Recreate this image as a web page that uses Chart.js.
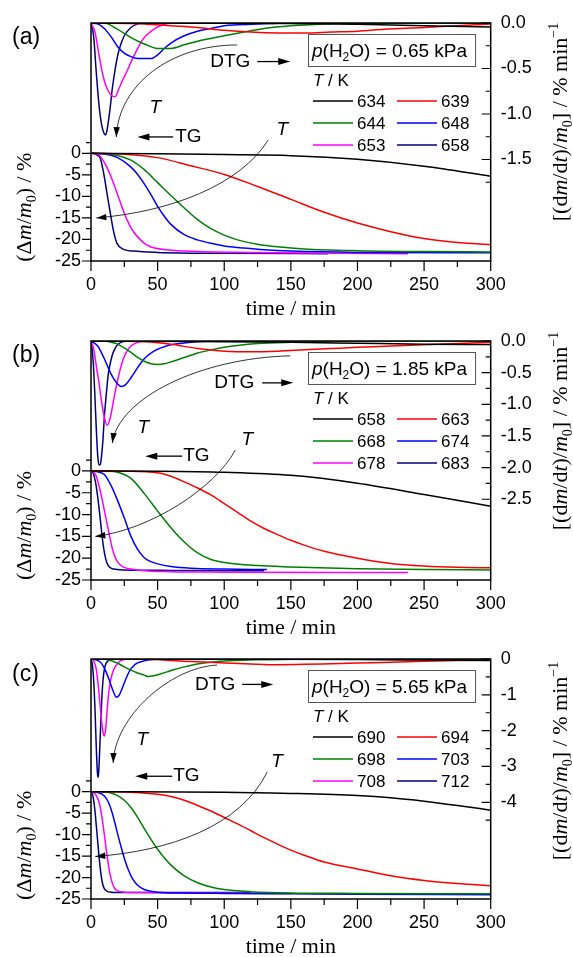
<!DOCTYPE html>
<html>
<head>
<meta charset="utf-8">
<script src="https://cdn.jsdelivr.net/npm/chart.js@4.4.1/dist/chart.umd.min.js"></script>
<style>
  html, body { margin: 0; padding: 0; background: #fff; }
  #wrap { position: relative; width: 573px; height: 957px; overflow: hidden; }
  canvas { position: absolute; left: 0; }
</style>
</head>
<body>
<div id="wrap">
  <canvas id="panelA" width="573" height="319" style="top:0px"></canvas>
  <canvas id="panelB" width="573" height="319" style="top:318px"></canvas>
  <canvas id="panelC" width="573" height="320" style="top:637px"></canvas>
</div>
<script>
'use strict';

// ---- shared ticks / series styling ----
const xTicks = [0, 50, 100, 150, 200, 250, 300];
const xMinor = [25, 75, 125, 175, 225, 275];
const tgTicks = [-25, -20, -15, -10, -5, 0];
const tgMinor = [-22.5, -17.5, -12.5, -7.5, -2.5, 2.5];
const seriesColors = ['#000000', '#ff0000', '#008000', '#0000ff', '#ff00ff', '#000080'];

// ---- (a) p(H2O) = 0.65 kPa ----  [time/min, value]
const tempsA = [634, 639, 644, 648, 653, 658];
const tgA634 = [[0, 0], [50, -0.1], [100, -0.3], [150, -0.55], [200, -1.4], [250, -3.0], [300, -5.3]];
const tgA639 = [[0, 0], [25, -0.2], [50, -1.0], [75, -2.9], [100, -4.9], [125, -7.7], [150, -10.7], [175, -13.7], [200, -16.2], [225, -18.2], [250, -19.8], [275, -20.7], [300, -21.2]];
const tgA644 = [[0, 0], [10, -0.05], [20, -0.5], [30, -1.6], [40, -3.8], [50, -6.8], [60, -9.8], [70, -12.7], [80, -15.4], [90, -17.5], [100, -19.0], [110, -20.1], [125, -21.1], [140, -21.7], [160, -22.2], [200, -22.6], [250, -22.8], [300, -22.9]];
const tgA648 = [[0, 0], [10, -0.15], [20, -1.0], [30, -3.2], [35, -4.9], [40, -7.1], [45, -9.6], [50, -12.3], [55, -14.6], [60, -16.5], [70, -18.9], [80, -20.1], [90, -20.9], [100, -21.5], [115, -22.0], [130, -22.4], [150, -22.7], [200, -23.0], [300, -23.1]];
const tgA653 = [[0, 0], [3, -0.1], [6, -0.4], [11, -2.7], [16, -6.2], [21, -10.5], [26, -14.7], [31, -17.8], [38.5, -20.5], [44.5, -21.7], [57, -22.4], [80, -22.8], [120, -23.0], [180, -23.2], [238, -23.3]];
const tgA658 = [[0, 0], [3, -0.1], [5, -0.5], [7, -1.2], [9.5, -4.6], [12, -9.3], [14.5, -13.9], [17, -18.2], [19.5, -20.9], [24.5, -22.3], [32, -22.7], [50, -23.0], [100, -23.2], [178, -23.3]];
const dtgA634 = [[0, 0], [150, -0.005], [200, -0.015], [250, -0.03], [300, -0.045]];
const dtgA639 = [[0, 0], [40, -0.01], [60, -0.03], [80, -0.05], [100, -0.08], [120, -0.1], [140, -0.11], [160, -0.11], [180, -0.1], [200, -0.09], [220, -0.07], [250, -0.05], [275, -0.03], [300, -0.01]];
const dtgA644 = [[0, 0], [10, 0], [20, -0.07], [30, -0.16], [40, -0.23], [50, -0.28], [60, -0.28], [70, -0.24], [80, -0.2], [90, -0.17], [100, -0.14], [115, -0.1], [130, -0.06], [150, -0.03], [175, -0.01], [200, 0], [300, 0]];
const dtgA648 = [[0, 0], [5, -0.01], [10, -0.06], [15, -0.15], [20, -0.26], [25, -0.33], [30, -0.37], [35, -0.39], [45, -0.39], [50, -0.35], [55, -0.28], [60, -0.22], [70, -0.14], [80, -0.09], [90, -0.06], [100, -0.03], [110, -0.02], [125, -0.01], [150, 0], [300, 0]];
const dtgA653 = [[0, 0], [3, -0.1], [6, -0.35], [9, -0.58], [12, -0.72], [15, -0.79], [18, -0.81], [21, -0.72], [24, -0.62], [27, -0.53], [30, -0.43], [34, -0.31], [38, -0.2], [42, -0.13], [47, -0.07], [54, -0.02], [60, 0], [238, 0]];
const dtgA658 = [[0, 0], [2, -0.15], [4, -0.55], [6, -0.9], [8, -1.12], [10, -1.22], [11, -1.23], [12, -1.18], [14, -0.98], [16, -0.72], [18, -0.52], [20, -0.36], [22, -0.25], [25, -0.14], [30, -0.05], [35, -0.01], [40, 0], [178, 0]];
const dtgTicksA = [0, -0.5, -1, -1.5];
const dtgMinorA = [-0.25, -0.75, -1.25, -1.75];

// ---- (b) p(H2O) = 1.85 kPa ----
const tempsB = [658, 663, 668, 674, 678, 683];
const tgB658 = [[0, 0], [50, -0.05], [100, -0.3], [150, -1.0], [200, -2.8], [250, -5.4], [300, -8.1]];
const tgB663 = [[0, 0], [25, -0.05], [50, -0.4], [60, -1.2], [70, -2.5], [80, -3.9], [90, -5.5], [100, -7.5], [110, -9.5], [120, -11.5], [130, -13.2], [140, -14.6], [150, -15.9], [160, -17.0], [175, -18.4], [200, -20.0], [225, -21.2], [250, -21.8], [275, -22.1], [300, -22.2]];
const tgB668 = [[0, 0], [10, 0], [20, -0.3], [30, -1.7], [40, -5.2], [50, -9.2], [60, -13.0], [70, -16.3], [80, -18.8], [90, -20.3], [100, -21.0], [125, -21.7], [150, -22.0], [200, -22.4], [250, -22.6], [300, -22.7]];
const tgB674 = [[0, 0], [5, -0.2], [10, -0.8], [15, -3.3], [20, -6.8], [25, -10.8], [30, -15.0], [35, -18.0], [40, -19.9], [45, -20.8], [50, -21.3], [60, -21.9], [75, -22.3], [100, -22.5], [132, -22.6]];
const tgB678 = [[0, 0], [2, -0.3], [4, -1.2], [6, -3.4], [8, -6.0], [10, -9.0], [12, -12.0], [14, -15.0], [16, -17.8], [18, -19.7], [20, -20.9], [24, -22.0], [30, -22.5], [40, -22.9], [60, -23.1], [100, -23.2], [238, -23.3]];
const tgB683 = [[0, 0], [1, -0.2], [2, -0.8], [3, -2.0], [4, -3.7], [5, -5.9], [6, -8.4], [7, -11.2], [8, -14.0], [9, -16.6], [10, -18.6], [11, -20.1], [12, -21.1], [14, -22.1], [17, -22.5], [25, -22.7], [60, -22.8], [130, -22.9]];
const dtgB658 = [[0, 0], [150, -0.02], [200, -0.035], [250, -0.05], [300, -0.055]];
const dtgB663 = [[0, 0], [40, -0.01], [60, -0.05], [80, -0.12], [100, -0.16], [120, -0.17], [140, -0.16], [160, -0.14], [180, -0.12], [200, -0.1], [225, -0.08], [250, -0.06], [275, -0.04], [300, -0.02]];
const dtgB668 = [[0, 0], [10, 0], [15, -0.02], [20, -0.05], [25, -0.11], [30, -0.18], [35, -0.26], [40, -0.32], [45, -0.36], [50, -0.37], [55, -0.36], [60, -0.33], [70, -0.26], [80, -0.19], [90, -0.14], [100, -0.1], [110, -0.07], [125, -0.04], [150, -0.02], [175, -0.01], [200, 0], [300, 0]];
const dtgB674 = [[0, 0], [5, -0.08], [10, -0.28], [15, -0.52], [20, -0.68], [23, -0.72], [26, -0.69], [30, -0.58], [35, -0.42], [40, -0.28], [45, -0.19], [50, -0.13], [55, -0.09], [60, -0.06], [70, -0.03], [80, -0.01], [90, 0], [132, 0]];
const dtgB678 = [[0, 0], [2, -0.12], [4, -0.4], [6, -0.66], [8, -0.97], [10, -1.2], [12, -1.33], [14, -1.25], [16, -1.05], [18, -0.82], [20, -0.62], [22, -0.44], [24, -0.3], [27, -0.16], [30, -0.08], [34, -0.03], [40, 0], [238, 0]];
const dtgB683 = [[0, 0], [1, -0.15], [2, -0.45], [3, -0.9], [4, -1.4], [5, -1.8], [6, -1.96], [7, -1.95], [8, -1.8], [9, -1.55], [10, -1.2], [11, -0.95], [12, -0.72], [13, -0.52], [14, -0.4], [16, -0.22], [18, -0.12], [20, -0.06], [24, -0.01], [30, 0], [130, 0]];
const dtgTicksB = [0, -0.5, -1, -1.5, -2, -2.5];
const dtgMinorB = [-0.25, -0.75, -1.25, -1.75, -2.25];

// ---- (c) p(H2O) = 5.65 kPa ----
const tempsC = [690, 694, 698, 703, 708, 712];
const tgC690 = [[0, 0], [100, -0.1], [150, -0.4], [200, -0.9], [225, -1.4], [250, -2.2], [275, -3.2], [300, -4.3]];
const tgC694 = [[0, 0], [25, -0.05], [50, -0.6], [60, -1.1], [70, -2.0], [80, -3.2], [90, -4.5], [100, -6.0], [110, -7.5], [120, -9.1], [130, -10.7], [140, -12.2], [150, -13.6], [160, -14.8], [175, -16.4], [200, -18.0], [225, -19.6], [250, -20.7], [275, -21.4], [300, -21.9]];
const tgC698 = [[0, 0], [10, -0.05], [15, -0.3], [20, -0.9], [25, -2.0], [30, -3.7], [35, -6.0], [40, -8.6], [45, -11.1], [50, -13.4], [55, -15.4], [60, -17.1], [70, -19.6], [80, -21.2], [90, -22.2], [100, -22.8], [120, -23.3], [150, -23.6], [200, -23.7], [300, -23.8]];
const tgC703 = [[0, 0], [5, -0.2], [10, -1.0], [13, -2.4], [16, -5.0], [19, -8.6], [22, -12.2], [25, -15.5], [28, -18.2], [31, -20.2], [35, -21.8], [40, -22.8], [45, -23.2], [50, -23.4], [70, -23.6], [100, -23.7], [150, -23.8], [200, -23.9], [300, -24.0]];
const tgC708 = [[0, 0], [2, -0.2], [4, -0.9], [6, -2.4], [8, -5.5], [10, -10.0], [12, -14.8], [14, -18.8], [16, -21.3], [18, -22.6], [20, -23.1], [25, -23.4], [35, -23.5], [80, -23.6], [150, -23.7]];
const tgC712 = [[0, 0], [1, -0.5], [2, -2.0], [3, -4.5], [4, -8.0], [5, -11.5], [6, -15.0], [7, -18.0], [8, -20.3], [9, -21.8], [10, -22.6], [12, -23.2], [15, -23.4], [25, -23.5], [120, -23.5]];
const dtgC690 = [[0, 0], [200, -0.015], [250, -0.03], [300, -0.045]];
const dtgC694 = [[0, 0], [40, -0.01], [60, -0.04], [80, -0.08], [100, -0.11], [120, -0.14], [140, -0.16], [160, -0.15], [180, -0.13], [200, -0.11], [225, -0.09], [250, -0.06], [275, -0.04], [300, -0.03]];
const dtgC698 = [[0, 0], [10, -0.01], [15, -0.04], [20, -0.12], [25, -0.22], [30, -0.31], [35, -0.39], [40, -0.45], [43, -0.49], [47, -0.47], [52, -0.42], [57, -0.36], [62, -0.3], [70, -0.22], [77, -0.16], [85, -0.11], [95, -0.07], [110, -0.04], [125, -0.02], [150, -0.01], [200, 0], [300, 0]];
const dtgC703 = [[0, 0], [5, -0.04], [8, -0.13], [11, -0.33], [14, -0.62], [17, -0.93], [19, -1.07], [21, -1.02], [23, -0.86], [26, -0.57], [29, -0.33], [32, -0.19], [35, -0.11], [40, -0.05], [45, -0.02], [50, 0], [300, 0]];
const dtgC708 = [[0, 0], [2, -0.05], [4, -0.3], [6, -0.95], [8, -1.75], [9, -2.05], [10, -2.15], [11, -1.95], [12, -1.5], [13, -1.05], [14, -0.75], [15, -0.55], [17, -0.3], [19, -0.17], [22, -0.05], [26, -0.01], [30, 0], [150, 0]];
const dtgC712 = [[0, 0], [1, -0.15], [2, -0.6], [3, -1.4], [4, -2.5], [5, -3.25], [5.5, -3.3], [6, -3.0], [7, -2.1], [8, -1.2], [9, -0.6], [10, -0.3], [11, -0.15], [13, -0.05], [16, 0], [120, 0]];
const dtgTicksC = [0, -1, -2, -3, -4];
const dtgMinorC = [-0.5, -1.5, -2.5, -3.5, -4.5];

const SANS = "'Liberation Sans', Arial, sans-serif";
const SERIF = "'Liberation Serif', 'Times New Roman', serif";

// layout per panel; annotation points are in (time, left-axis value)
const panels = [
  {
    canvas: 'panelA', label: '(a)', p: '0.65', temps: tempsA,
    tg: [tgA634, tgA639, tgA644, tgA648, tgA653, tgA658],
    dtg: [dtgA634, dtgA639, dtgA644, dtgA648, dtgA653, dtgA658],
    dtgTicks: dtgTicksA, dtgMinor: dtgMinorA, dec: 1,
    h: 319, top: 23, bottom: 261, yMax: 30.25, y2Min: -2.615, rightY: 122,
    notes: {
      dtgText: [104.5, 21.2], dtgArrow: [124.8, 149.5, 21.3],
      curve1: [[109.7, 25.15], [59.5, 25.15], [20.5, 15.85], [19, 3.78]],
      t1: [48.3, 10.5], tgArrow: [61.7, 34.8, 3.8], tgText: 63.2,
      t2: [143.5, 5.4], curve2: [[133, 3.09], [112, -7.36], [59.5, -13.6], [4, -15.0]],
    },
  },
  {
    canvas: 'panelB', label: '(b)', p: '1.85', temps: tempsB,
    tg: [tgB658, tgB663, tgB668, tgB674, tgB678, tgB683],
    dtg: [dtgB658, dtgB663, dtgB668, dtgB674, dtgB678, dtgB683],
    dtgTicks: dtgTicksB, dtgMinor: dtgMinorB, dec: 1,
    h: 319, top: 23, bottom: 262, yMax: 29.8, y2Min: -3.776, rightY: 113,
    notes: {
      dtgText: [107.5, 20.2], dtgArrow: [128.5, 151.8, 20.2],
      curve1: [[149.5, 26.4], [82, 25.9], [20.5, 16.7], [16, 6.4]],
      t1: [39.2, 9.9], tgArrow: [68.5, 40.7, 3.4], tgText: 69.2,
      t2: [117.3, 7.1], curve2: [[108.3, 4.8], [93.2, -3.9], [44.5, -13.5], [3.2, -15.0]],
    },
  },
  {
    canvas: 'panelC', label: '(c)', p: '5.65', temps: tempsC,
    tg: [tgC690, tgC694, tgC698, tgC703, tgC708, tgC712],
    dtg: [dtgC690, dtgC694, dtgC698, dtgC703, dtgC708, dtgC712],
    dtgTicks: dtgTicksC, dtgMinor: dtgMinorC, dec: 0,
    h: 320, top: 22, bottom: 262, yMax: 30.92, y2Min: -6.70, rightY: 124,
    notes: {
      dtgText: [93.2, 25.0], dtgArrow: [113.5, 136.8, 25.0],
      curve1: [[94.7, 29.5], [59.5, 29.0], [17.5, 17.4], [16.7, 6.7]],
      t1: [38.5, 12.0], tgArrow: [61, 33.2, 3.6], tgText: 61.7,
      t2: [139.7, 6.9], curve2: [[132.3, 4.6], [112, -8.1], [59.5, -13.8], [3.2, -15.1]],
    },
  },
];

// ---- text helpers (italic / sub / sup runs) ----
function partFont(st, size, fam) {
  const small = st === 'sub' || st === 'sup';
  return (st === 'i' ? 'italic ' : '') + (small ? Math.round(size * 0.65) : size) + 'px ' + fam;
}
function richWidth(ctx, parts, size, fam) {
  let w = 0;
  for (const [s, st] of parts) { ctx.font = partFont(st, size, fam); w += ctx.measureText(s).width; }
  return w;
}
function drawRich(ctx, parts, x, y, size, fam) {
  ctx.textAlign = 'left';
  ctx.textBaseline = 'alphabetic';
  for (const [s, st] of parts) {
    ctx.font = partFont(st, size, fam);
    const dy = st === 'sub' ? size * 0.22 : st === 'sup' ? -size * 0.42 : 0;
    ctx.fillText(s, x, y + dy);
    x += ctx.measureText(s).width;
  }
}
function head(ctx, tip, ang, len, half) {
  const [x, y] = tip, c = Math.cos(ang), s = Math.sin(ang);
  ctx.beginPath();
  ctx.moveTo(x, y);
  ctx.lineTo(x - len * c + half * s, y - len * s - half * c);
  ctx.lineTo(x - len * c - half * s, y - len * s + half * c);
  ctx.closePath();
  ctx.fill();
}
function straightArrow(ctx, from, to) {
  const ang = Math.atan2(to[1] - from[1], to[0] - from[0]);
  ctx.lineWidth = 1.3;
  ctx.beginPath();
  ctx.moveTo(from[0], from[1]);
  ctx.lineTo(to[0] - 10 * Math.cos(ang), to[1] - 10 * Math.sin(ang));
  ctx.stroke();
  head(ctx, to, ang, 12, 3.5);
}
function curvedArrow(ctx, p) {
  ctx.lineWidth = 0.8;
  ctx.beginPath();
  ctx.moveTo(p[0][0], p[0][1]);
  ctx.bezierCurveTo(p[1][0], p[1][1], p[2][0], p[2][1], p[3][0], p[3][1]);
  ctx.stroke();
  head(ctx, p[3], Math.atan2(p[3][1] - p[2][1], p[3][0] - p[2][0]), 10, 3.2);
}

function makeDecor(pn) {
  return {
    id: 'decor',
    afterDatasetsDraw(chart) {
      const ctx = chart.ctx, a = chart.chartArea;
      const sx = chart.scales.x, sy = chart.scales.y, sy2 = chart.scales.y2;
      const P = (t, v) => [sx.getPixelForValue(t), sy.getPixelForValue(v)];
      ctx.save();
      ctx.strokeStyle = '#000';
      ctx.fillStyle = '#000';

      ctx.lineWidth = 1.5;
      ctx.strokeRect(a.left, a.top, a.right - a.left, a.bottom - a.top);

      // tick marks: x and left outward, right inward
      ctx.lineWidth = 1.2;
      ctx.beginPath();
      const vtick = (v, len) => { const px = sx.getPixelForValue(v); ctx.moveTo(px, a.bottom); ctx.lineTo(px, a.bottom + len); };
      const ltick = (v, len) => { const py = sy.getPixelForValue(v); ctx.moveTo(a.left - len, py); ctx.lineTo(a.left, py); };
      const rtick = (v, len) => { const py = sy2.getPixelForValue(v); ctx.moveTo(a.right - len, py); ctx.lineTo(a.right, py); };
      xTicks.forEach(v => vtick(v, 10));
      xMinor.forEach(v => vtick(v, 6));
      tgTicks.forEach(v => ltick(v, 9));
      tgMinor.forEach(v => ltick(v, 5));
      pn.dtgTicks.forEach(v => rtick(v, 9));
      pn.dtgMinor.forEach(v => rtick(v, 5));
      ctx.stroke();

      // annotations
      const n = pn.notes;
      ctx.font = '19px ' + SANS;
      ctx.textAlign = 'center';
      ctx.textBaseline = 'middle';
      let q = P(n.dtgText[0], n.dtgText[1]);
      ctx.fillText('DTG', q[0], q[1]);
      straightArrow(ctx, P(n.dtgArrow[0], n.dtgArrow[2]), P(n.dtgArrow[1], n.dtgArrow[2]));
      straightArrow(ctx, P(n.tgArrow[0], n.tgArrow[2]), P(n.tgArrow[1], n.tgArrow[2]));
      ctx.font = '19px ' + SANS;
      ctx.textAlign = 'left';
      ctx.textBaseline = 'middle';
      q = P(n.tgText, n.tgArrow[2]);
      ctx.fillText('TG', q[0], q[1]);
      ctx.font = 'italic 19px ' + SANS;
      ctx.textAlign = 'center';
      q = P(n.t1[0], n.t1[1]);
      ctx.fillText('T', q[0], q[1]);
      q = P(n.t2[0], n.t2[1]);
      ctx.fillText('T', q[0], q[1]);
      curvedArrow(ctx, n.curve1.map(c => P(c[0], c[1])));
      curvedArrow(ctx, n.curve2.map(c => P(c[0], c[1])));

      // legend block
      const lx = a.left, ly = a.top;
      const boxParts = [['p', 'i'], ['(H', ''], ['2', 'sub'], ['O) = ' + pn.p + ' kPa', '']];
      const bw = richWidth(ctx, boxParts, 19, SANS);
      ctx.lineWidth = 1;
      ctx.strokeStyle = '#555';
      ctx.strokeRect(lx + 217.5, ly + 11.5, bw + 12, 32);
      drawRich(ctx, boxParts, lx + 221, ly + 34, 19, SANS);
      drawRich(ctx, [['T', 'i'], [' / K', '']], lx + 222, ly + 63, 17, SANS);
      ctx.font = '17px ' + SANS;
      ctx.textBaseline = 'middle';
      ctx.textAlign = 'left';
      ctx.lineWidth = 1.5;
      pn.temps.forEach((tK, i) => {
        const col = i % 2, row = Math.floor(i / 2);
        const x0 = lx + 222 + col * 84, y0 = ly + 78 + row * 22;
        ctx.strokeStyle = seriesColors[i];
        ctx.beginPath();
        ctx.moveTo(x0, y0);
        ctx.lineTo(x0 + 40, y0);
        ctx.stroke();
        ctx.fillText(String(tK), x0 + 44, y0 + 1);
      });

      // panel letter
      ctx.font = '23px ' + SANS;
      ctx.fillText(pn.label, 12, 38);

      // axis titles
      ctx.font = '22px ' + SERIF;
      ctx.textAlign = 'center';
      ctx.fillText('time / min', (a.left + a.right) / 2, a.bottom + 48);

      const leftParts = [['(\u0394', ''], ['m', 'i'], ['/', ''], ['m', 'i'], ['0', 'sub'], [') / %', '']];
      const rightParts = [['[(d', ''], ['m', 'i'], ['/d', ''], ['t', 'i'], [')/', ''], ['m', 'i'], ['0', 'sub'], ['] / % min', ''], ['\u22121', 'sup']];
      const cyL = (sy.getPixelForValue(0) + sy.getPixelForValue(-25)) / 2;
      ctx.save();
      ctx.translate(24, cyL);
      ctx.rotate(-Math.PI / 2);
      let w = richWidth(ctx, leftParts, 22, SERIF);
      drawRich(ctx, leftParts, -w / 2, 7, 22, SERIF);
      ctx.restore();
      ctx.save();
      ctx.translate(560, pn.rightY);
      ctx.rotate(-Math.PI / 2);
      w = richWidth(ctx, rightParts, 22, SERIF);
      drawRich(ctx, rightParts, -w / 2, 7, 22, SERIF);
      ctx.restore();

      ctx.restore();
    },
  };
}

function curve(pts) {
  return pts.map(([t, v]) => ({ x: t, y: v }));
}

const tickFont = { family: SANS, size: 18 };

panels.forEach((pn) => {
  const line = (pts, i, axis) => ({
    data: curve(pts),
    yAxisID: axis,
    borderColor: seriesColors[i],
    borderWidth: 1.5,
    pointRadius: 0,
    fill: false,
    cubicInterpolationMode: 'monotone',
  });
  new Chart(document.getElementById(pn.canvas), {
    type: 'line',
    data: {
      datasets: [
        ...pn.tg.map((d, i) => line(d, i, 'y')),
        ...pn.dtg.map((d, i) => line(d, i, 'y2')),
      ],
    },
    options: {
      responsive: false,
      animation: false,
      devicePixelRatio: 1,
      events: [],
      layout: { padding: { top: pn.top, left: 0, right: 0, bottom: 0 } },
      plugins: { legend: { display: false }, tooltip: { enabled: false } },
      scales: {
        x: {
          type: 'linear', min: 0, max: 300, bounds: 'data',
          afterBuildTicks: (s) => { s.ticks = xTicks.map((v) => ({ value: v })); },
          afterFit: (s) => { s.height = pn.h - pn.bottom; },
          grid: { display: false, drawTicks: false, tickLength: 0 },
          border: { display: false },
          ticks: { font: tickFont, color: '#000', padding: 13, maxRotation: 0, autoSkip: false, callback: (v) => String(v) },
        },
        y: {
          type: 'linear', position: 'left', min: -25, max: pn.yMax, bounds: 'data',
          afterBuildTicks: (s) => { s.ticks = tgTicks.map((v) => ({ value: v })); },
          afterFit: (s) => { s.width = 91; },
          grid: { display: false, drawTicks: false, tickLength: 0 },
          border: { display: false },
          ticks: { font: tickFont, color: '#000', padding: 10, autoSkip: false, callback: (v) => String(v) },
        },
        y2: {
          type: 'linear', position: 'right', min: pn.y2Min, max: 0, bounds: 'data',
          afterBuildTicks: (s) => { s.ticks = pn.dtgTicks.map((v) => ({ value: v })); },
          afterFit: (s) => { s.width = 82.3; },
          grid: { display: false, drawTicks: false, tickLength: 0 },
          border: { display: false },
          ticks: { font: tickFont, color: '#000', padding: 10, autoSkip: false, callback: (v) => Math.abs(v).toFixed(pn.dec) === (0).toFixed(pn.dec) ? (0).toFixed(pn.dec) : v.toFixed(pn.dec) },
        },
      },
    },
    plugins: [makeDecor(pn)],
  });
});
</script>
</body>
</html>
